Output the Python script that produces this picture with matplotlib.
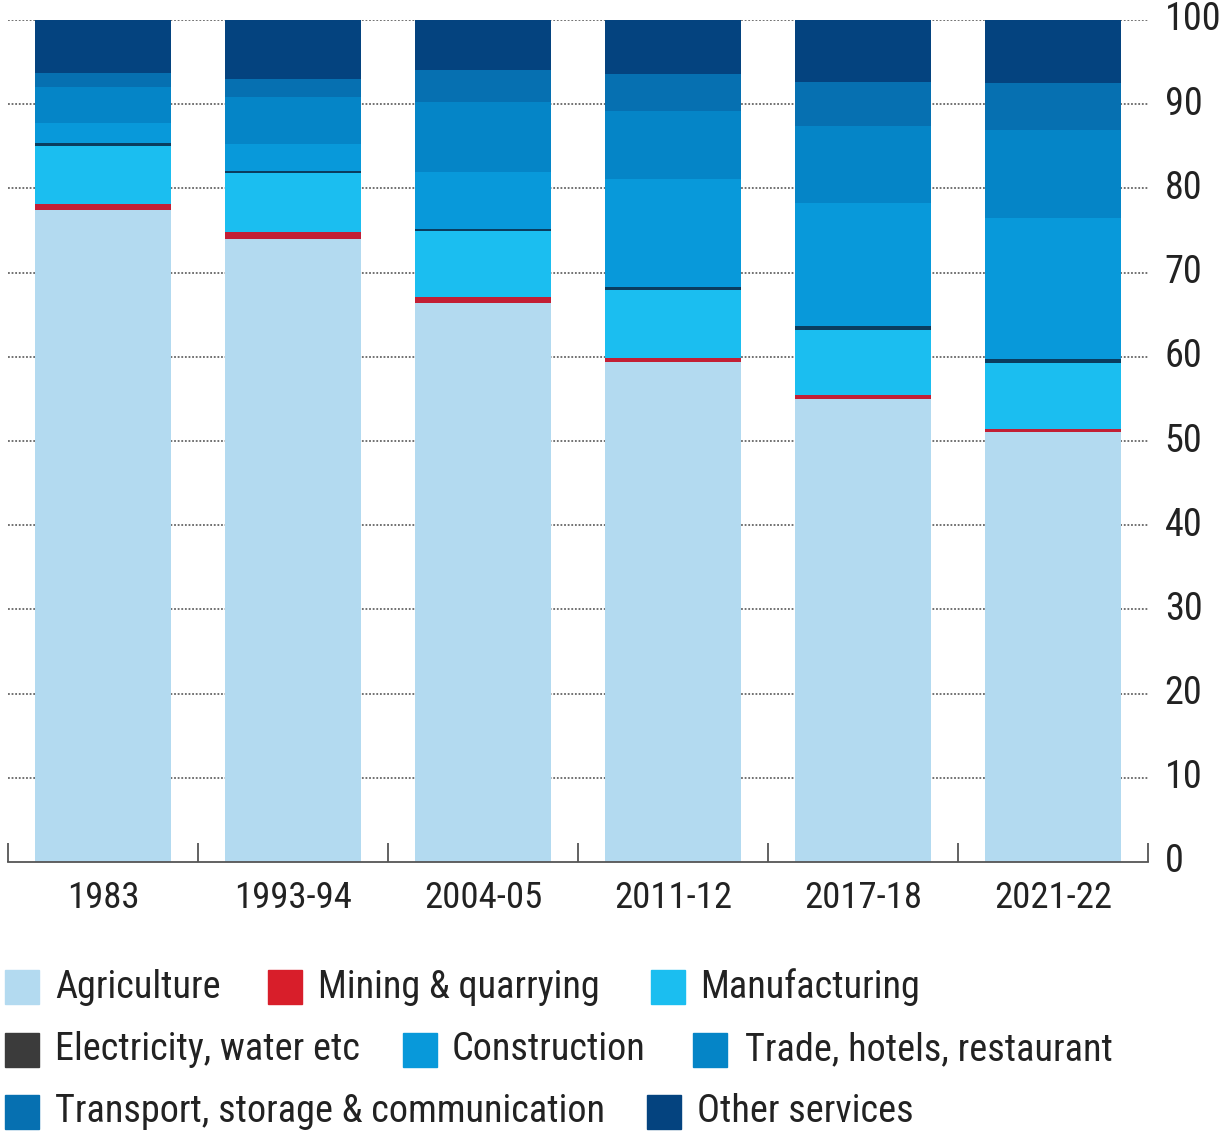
import numpy as np
import matplotlib.pyplot as plt
from matplotlib.patches import Rectangle

# share of workforce by sector (%)
years = ['1983', '1993-94', '2004-05', '2011-12', '2017-18', '2021-22']
agriculture = [77.4, 74.0, 66.4, 59.4, 55.0, 51.1]
mining = [0.7, 0.8, 0.7, 0.5, 0.5, 0.3]
manufacturing = [6.9, 7.0, 7.8, 8.0, 7.7, 7.9]
electricity = [0.4, 0.3, 0.3, 0.4, 0.5, 0.4]
construction = [2.4, 3.2, 6.7, 12.8, 14.6, 16.8]
trade = [4.2, 5.6, 8.4, 8.1, 9.1, 10.4]
transport = [1.7, 2.1, 3.8, 4.4, 5.2, 5.6]
other = [6.3, 7.0, 5.9, 6.4, 7.4, 7.5]

sectors = ['Agriculture', 'Mining & quarrying', 'Manufacturing',
           'Electricity, water etc', 'Construction', 'Trade, hotels, restaurant',
           'Transport, storage & communication', 'Other services']
series = [agriculture, mining, manufacturing, electricity,
          construction, trade, transport, other]
bar_colors = ['#b3daf0', '#c21f35', '#1bbef0', '#0a3d5f',
              '#0899da', '#0585c7', '#0670b1', '#04437f']
legend_colors = ['#b3daf0', '#d81e2a', '#1bbef0', '#3b3b3b',
                 '#0899da', '#0585c7', '#0670b1', '#04437f']

font = ['Roboto Condensed', 'Liberation Sans', 'DejaVu Sans']

fig = plt.figure(figsize=(12.32, 11.33), dpi=100)
ax = fig.add_axes([8 / 1232, 1 - 862 / 1133, 1140 / 1232, 842 / 1133])

x = np.arange(len(years))
bottom = np.zeros(len(years))
for vals, col in zip(series, bar_colors):
    ax.bar(x, vals, bottom=bottom, width=0.715, color=col, linewidth=0, zorder=2)
    bottom += np.array(vals)

ax.set_xlim(-0.5, len(years) - 0.5)
ax.set_ylim(0, 100)

# dotted gridlines behind the bars
for yv in range(10, 101, 10):
    ax.axhline(yv, color='#666666', linestyle=(0, (1, 1)), linewidth=1.3, zorder=1)

for side in ['top', 'left', 'right']:
    ax.spines[side].set_visible(False)
ax.spines['bottom'].set_color('#555555')
ax.spines['bottom'].set_linewidth(1.3)

# category ticks at bar boundaries, labels at centers
ax.set_xticks(x)
ax.set_xticklabels(years, fontsize=26.5, family=font, color='#222222')
ax.tick_params(axis='x', which='major', length=0, pad=13)
ax.set_xticks(np.arange(-0.5, len(years)), minor=True)
ax.tick_params(axis='x', which='minor', direction='in', length=14,
               width=1.3, color='#555555')

ax.yaxis.tick_right()
ax.set_yticks(range(0, 101, 10))
ax.set_yticklabels([str(v) for v in range(0, 101, 10)], fontsize=27.5,
                   family=font, color='#222222')
ax.tick_params(axis='y', length=0, pad=12)
for lbl in ax.get_yticklabels():
    lbl.set_verticalalignment('center')

# legend laid out in three rows like the original
rows = [
    [(0, 5, 55), (1, 268, 318), (2, 651, 700)],
    [(3, 5, 55), (4, 403, 452), (5, 693, 745)],
    [(6, 5, 55), (7, 647, 697)],
]
row_y = [987, 1050, 1112]
for ry, row in zip(row_y, rows):
    for idx, px, tx in row:
        fig.patches.append(Rectangle((px / 1232, 1 - (ry + 17) / 1133),
                                     34 / 1232, 34 / 1133,
                                     transform=fig.transFigure,
                                     color=legend_colors[idx]))
        fig.text(tx / 1232, 1 - ry / 1133, sectors[idx], fontsize=27.5,
                 family=font, color='#222222', va='center', ha='left')

fig.savefig('out.png', dpi=100)
